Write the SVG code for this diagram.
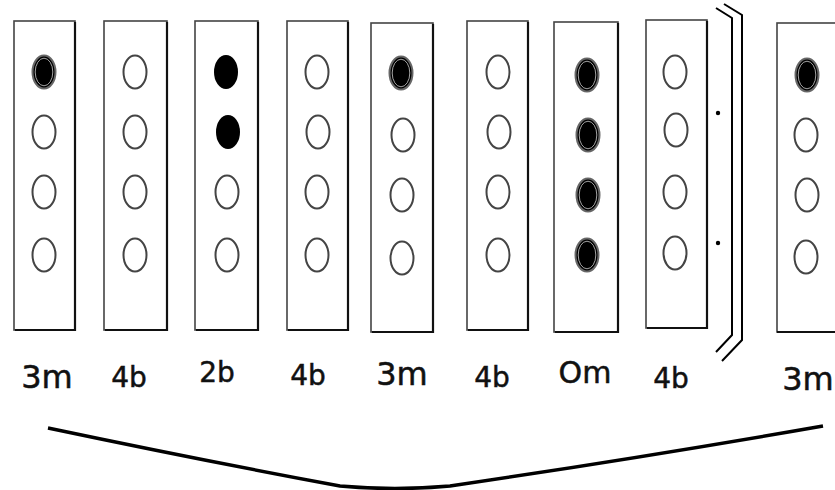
<svg xmlns="http://www.w3.org/2000/svg" width="835" height="490" viewBox="0 0 835 490">
<style>
.box{fill:#fff;stroke:#444;stroke-width:1.6}
.sh{fill:none;stroke:#111;stroke-width:2.2}
.o{fill:#fff;stroke:#444;stroke-width:2}
.f{fill:#000;stroke:#666;stroke-width:2}
.s{fill:#000}
.lbl{font-family:"DejaVu Sans","Verdana",sans-serif;fill:#111;stroke:#111;stroke-width:0.5}
.ln{fill:none;stroke:#000;stroke-width:2}
</style>
<defs>
<g id="ring"><ellipse rx="11.5" ry="16.5" class="f"/><ellipse rx="8.8" ry="13.8" fill="none" stroke="#ccc" stroke-width="0.8"/></g>
<ellipse id="open" rx="11.5" ry="16.5" class="o"/>
</defs>
<rect width="835" height="490" fill="#fff"/>

<g id="col1">
<rect class="box" x="14" y="21" width="61" height="309"/>
<path class="sh" d="M75,22 V330 H15"/>
<use href="#ring" x="44" y="72"/><use href="#open" x="44" y="132"/><use href="#open" x="44" y="192"/><use href="#open" x="44" y="255"/>
<text class="lbl" x="47" y="388" font-size="32" text-anchor="middle">3m</text>
</g>
<g id="col2">
<rect class="box" x="104" y="21" width="63" height="309"/>
<path class="sh" d="M167,22 V330 H105"/>
<use href="#open" x="135" y="72"/><use href="#open" x="135" y="132"/><use href="#open" x="135" y="192"/><use href="#open" x="135" y="255"/>
<text class="lbl" x="129" y="387" font-size="28" text-anchor="middle">4b</text>
</g>
<g id="col3">
<rect class="box" x="195" y="21" width="63" height="309"/>
<path class="sh" d="M258,22 V330 H196"/>
<ellipse class="s" cx="226" cy="72" rx="12" ry="17"/><ellipse class="s" cx="228" cy="132" rx="12" ry="17"/><use href="#open" x="227" y="192"/><use href="#open" x="227" y="255"/>
<text class="lbl" x="217" y="382" font-size="28" text-anchor="middle">2b</text>
</g>
<g id="col4">
<rect class="box" x="287" y="21" width="61" height="309"/>
<path class="sh" d="M348,22 V330 H288"/>
<use href="#open" x="317" y="72"/><use href="#open" x="318" y="132"/><use href="#open" x="317" y="192"/><use href="#open" x="317" y="255"/>
<text class="lbl" x="308" y="385" font-size="28" text-anchor="middle">4b</text>
</g>
<g id="col5">
<rect class="box" x="371" y="23" width="62" height="309"/>
<path class="sh" d="M433,24 V332 H372"/>
<use href="#ring" x="401" y="73"/><use href="#open" x="403" y="135"/><use href="#open" x="402" y="195"/><use href="#open" x="402" y="258"/>
<text class="lbl" x="402" y="385" font-size="32" text-anchor="middle">3m</text>
</g>
<g id="col6">
<rect class="box" x="467" y="21" width="61" height="309"/>
<path class="sh" d="M528,22 V330 H468"/>
<use href="#open" x="498" y="72"/><use href="#open" x="499" y="132"/><use href="#open" x="498" y="192"/><use href="#open" x="498" y="255"/>
<text class="lbl" x="492" y="387" font-size="28" text-anchor="middle">4b</text>
</g>
<g id="col7">
<rect class="box" x="554" y="22" width="64" height="310"/>
<path class="sh" d="M618,23 V332 H555"/>
<use href="#ring" x="587" y="75"/><use href="#ring" x="588" y="135"/><use href="#ring" x="588" y="195"/><use href="#ring" x="587" y="255"/>
<text class="lbl" x="585" y="383" font-size="30" text-anchor="middle">Om</text>
</g>
<g id="col8">
<rect class="box" x="646" y="20" width="61" height="308"/>
<path class="sh" d="M707,21 V328 H647"/>
<use href="#open" x="675" y="72"/><use href="#open" x="676" y="130"/><use href="#open" x="675" y="192"/><use href="#open" x="675" y="253"/>
<text class="lbl" x="671" y="388" font-size="28" text-anchor="middle">4b</text>
<circle cx="718" cy="113" r="2.2" fill="#000"/>
<circle cx="718" cy="243" r="2.2" fill="#000"/>
</g>
<g id="bracket">
<path class="ln" d="M716,8 L732,18 L732,335 L716,352"/>
<path class="ln" d="M724,4 L742,15 L742,340 L722,361"/>
</g>
<g id="col9">
<rect class="box" x="777" y="23" width="70" height="309"/>
<path class="sh" d="M777,332 H835"/>
<use href="#ring" x="807" y="75"/><use href="#open" x="806" y="135"/><use href="#open" x="807" y="195"/><use href="#open" x="806" y="257"/>
<text class="lbl" x="808" y="390" font-size="32" text-anchor="middle">3m</text>
</g>
<g id="connectors">
<path d="M48,428 Q200,460 340,486 Q395,491 450,486 Q640,458 823,426" fill="none" stroke="#000" stroke-width="3.5"/>
</g>
</svg>
